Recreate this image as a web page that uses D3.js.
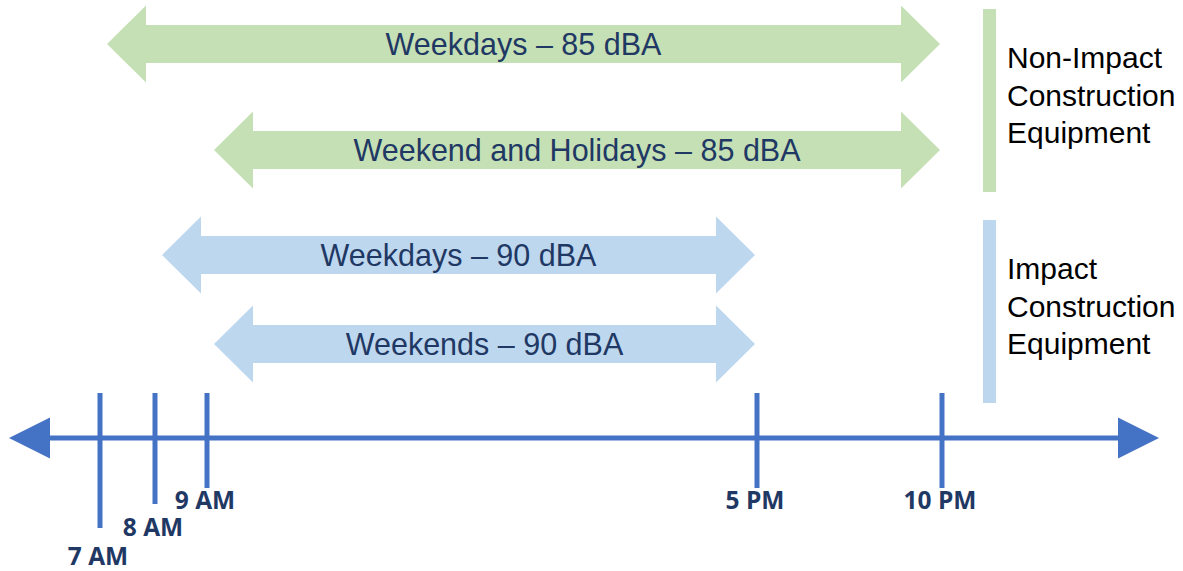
<!DOCTYPE html>
<html>
<head>
<meta charset="utf-8">
<script src="https://cdn.jsdelivr.net/npm/d3@7"></script>
<style>
  html, body { margin: 0; padding: 0; background: #fff; }
  svg { display: block; }
</style>
</head>
<body>
<div id="chart"></div>
<script>
// hours of the day shown on the timeline
const hours = [7, 8, 9, 17, 22];
const hourLabels = ["7 AM", "8 AM", "9 AM", "5 PM", "10 PM"];

// allowed periods
const periodLabels = ["Weekdays \u2013 85 dBA", "Weekend and Holidays \u2013 85 dBA", "Weekdays \u2013 90 dBA", "Weekends \u2013 90 dBA"];
const periodStart = [7, 9, 8, 9];
const periodEnd = [22, 22, 17, 17];
const periodGroup = ["nonimpact", "nonimpact", "impact", "impact"];

// equipment groups
const groupKeys = ["nonimpact", "impact"];
const groupLines = [["Non-Impact", "Construction", "Equipment"], ["Impact", "Construction", "Equipment"]];

var w = 1183,
  h = 571;

var colors = { nonimpact: "#c5e0b4", impact: "#bdd7ee" };
var axisColor = "#4472c4";
var navy = "#1f3864";

// timeline is not evenly spaced in the original, so piecewise scale
var x = d3.scaleLinear()
  .domain(hours)
  .range([100, 155, 207, 757, 942]);

var rowY = d3.scaleOrdinal()
  .domain(d3.range(periodLabels.length))
  .range([44, 150, 255, 344]);

var svg = d3.select("#chart")
  .append("svg")
  .attr("width", w)
  .attr("height", h);

// double headed block arrows
function blockArrow(x0, x1, cy) {
  var head = 39, hh = 38.5, sh = 19;
  return "M" + x0 + "," + cy +
    "L" + (x0 + head) + "," + (cy - hh) +
    "L" + (x0 + head) + "," + (cy - sh) +
    "L" + (x1 - head) + "," + (cy - sh) +
    "L" + (x1 - head) + "," + (cy - hh) +
    "L" + x1 + "," + cy +
    "L" + (x1 - head) + "," + (cy + hh) +
    "L" + (x1 - head) + "," + (cy + sh) +
    "L" + (x0 + head) + "," + (cy + sh) +
    "L" + (x0 + head) + "," + (cy + hh) + "Z";
}

var periods = periodLabels.map((d, i) => ({
  label: d, start: periodStart[i], end: periodEnd[i], group: periodGroup[i], i: i
}));

var band = svg.append("g")
  .attr("class", "periods")
  .selectAll("g")
  .data(periods)
  .enter()
  .append("g");

band.append("path")
  .attr("d", d => blockArrow(x(d.start) + 7, x(d.end) - 2, rowY(d.i)))
  .attr("fill", d => colors[d.group]);

band.append("text")
  .attr("x", d => (x(d.start) + 7 + x(d.end) - 2) / 2)
  .attr("y", d => rowY(d.i) + 11)
  .attr("text-anchor", "middle")
  .attr("font-family", "'Liberation Sans', Arial, sans-serif")
  .attr("font-size", 30.5)
  .attr("fill", navy)
  .text(d => d.label);

// legend bars and text
var groupSpan = { nonimpact: [9, 192], impact: [220, 403] };

var legend = svg.append("g")
  .attr("class", "legend")
  .selectAll("g")
  .data(groupKeys)
  .enter()
  .append("g");

legend.append("rect")
  .attr("x", 983)
  .attr("y", d => groupSpan[d][0])
  .attr("width", 13)
  .attr("height", d => groupSpan[d][1] - groupSpan[d][0])
  .attr("fill", d => colors[d]);

legend.append("text")
  .attr("font-family", "'Liberation Sans', Arial, sans-serif")
  .attr("font-size", 30)
  .attr("fill", "#000")
  .selectAll("tspan")
  .data((d, i) => groupLines[i].map((t, j) => ({ t: t, j: j, top: groupSpan[d][0] })))
  .enter()
  .append("tspan")
  .attr("x", 1007)
  .attr("y", d => d.top + 59 + d.j * 37.5)
  .text(d => d.t);

// timeline axis
var axisY = 438;
var axis = svg.append("g").attr("class", "timeline");

axis.append("line")
  .attr("x1", 40)
  .attr("x2", 1125)
  .attr("y1", axisY)
  .attr("y2", axisY)
  .attr("stroke", axisColor)
  .attr("stroke-width", 5);

axis.append("path")
  .attr("d", "M9," + axisY + "L50," + (axisY - 20.5) + "L50," + (axisY + 20.5) + "Z")
  .attr("fill", axisColor);

axis.append("path")
  .attr("d", "M1159," + axisY + "L1118," + (axisY - 20.5) + "L1118," + (axisY + 20.5) + "Z")
  .attr("fill", axisColor);

// labels are staggered below the first ticks
var stagger = [2, 1, 0, 0, 0];
var tickBottom = [488, 504, 528];
var labelBase = [509, 536, 565];

var tick = axis.selectAll("g.tick")
  .data(hours)
  .enter()
  .append("g")
  .attr("class", "tick");

tick.append("line")
  .attr("x1", d => x(d))
  .attr("x2", d => x(d))
  .attr("y1", 393)
  .attr("y2", (d, i) => tickBottom[stagger[i]])
  .attr("stroke", axisColor)
  .attr("stroke-width", 5);

tick.append("text")
  .attr("x", d => x(d) - 2)
  .attr("y", (d, i) => labelBase[stagger[i]])
  .attr("text-anchor", "middle")
  .attr("font-family", "'Open Sans', sans-serif")
  .attr("font-weight", "bold")
  .attr("font-size", 24.5)
  .attr("fill", navy)
  .text((d, i) => hourLabels[i]);
</script>
</body>
</html>
